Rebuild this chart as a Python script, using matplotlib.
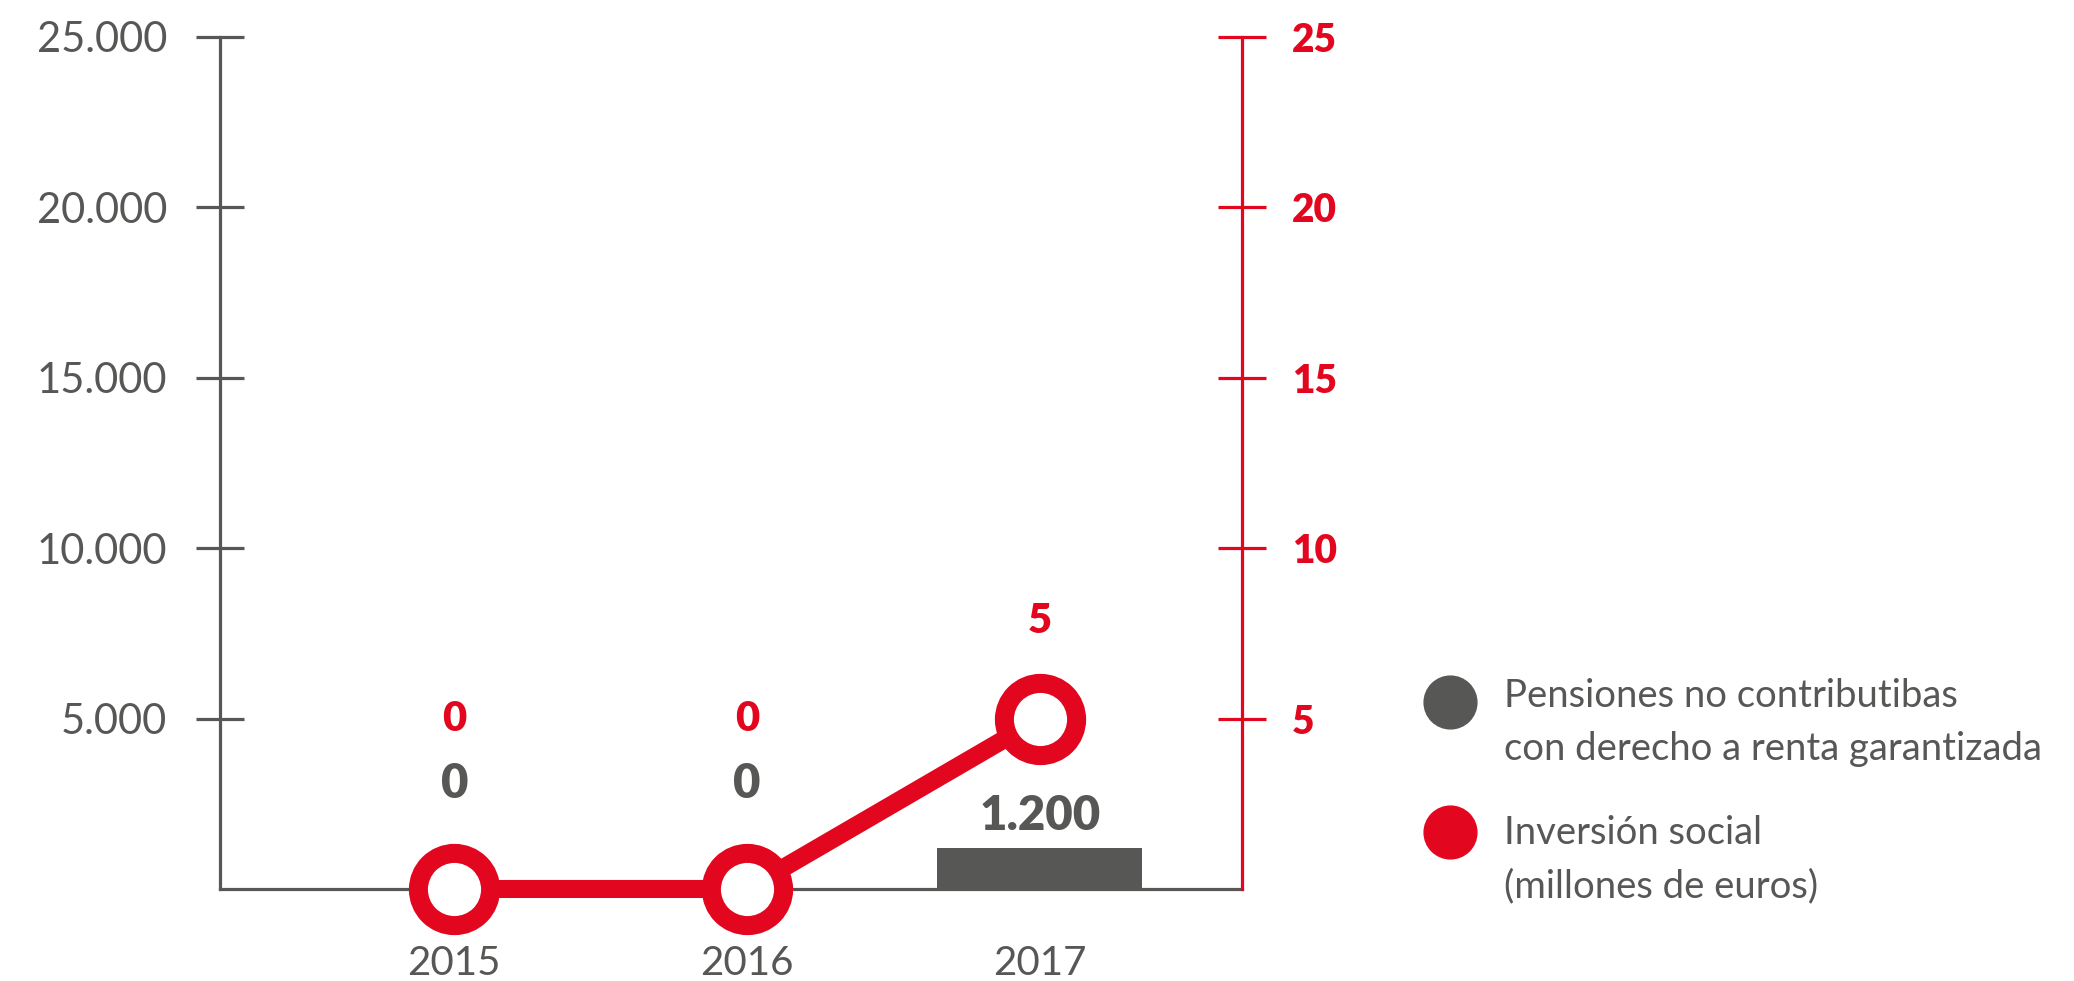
import matplotlib.pyplot as plt
from matplotlib.lines import Line2D
from matplotlib.ticker import FuncFormatter

# data
years = ["2015", "2016", "2017"]
pensiones = [0, 0, 1200]
inversion = [0, 0, 5]
left_ticks = [5000, 10000, 15000, 20000, 25000]
right_ticks = [5, 10, 15, 20, 25]

RED = "#e3061f"
GRAY = "#575756"
FONT = "Lato"


def dots(v, pos=None):
    return f"{int(v):,}".replace(",", ".")


fig = plt.figure(figsize=(20.74, 9.81), dpi=100)
ax = fig.add_axes([0.1061, 0.0938, 0.4927, 0.8685])
ax2 = ax.twinx()

x = range(len(years))

# bars on the left axis
ax.bar(x, pensiones, width=0.7, color=GRAY, zorder=2)
ax.set_ylim(0, 25000)
ax.set_xlim(-0.8, 2.69)
ax.set_yticks(left_ticks)
ax.yaxis.set_major_formatter(FuncFormatter(dots))
ax.set_xticks(list(x))
ax.set_xticklabels(years)

for s in ["top", "right"]:
    ax.spines[s].set_visible(False)
ax.spines["left"].set_color(GRAY)
ax.spines["left"].set_linewidth(2.3)
ax.spines["bottom"].set_color(GRAY)
ax.spines["bottom"].set_linewidth(2.3)
ax.tick_params(axis="y", direction="inout", length=34, width=2.3, color=GRAY,
               pad=21, labelsize=30, labelcolor=GRAY)
ax.tick_params(axis="x", length=0, pad=40, labelsize=29, labelcolor=GRAY)
for t in ax.get_yticklabels():
    t.set_fontfamily(FONT)
for t in ax.get_xticklabels():
    t.set_fontfamily(FONT)

# line on the right axis
ax2.plot(x, inversion, color=RED, lw=13, marker="o", ms=52, mew=13.7,
         mfc="white", mec=RED, clip_on=False, zorder=3)
ax2.set_ylim(0, 25)
ax2.set_yticks(right_ticks)
for s in ["top", "left", "bottom"]:
    ax2.spines[s].set_visible(False)
ax2.spines["right"].set_color(RED)
ax2.spines["right"].set_linewidth(2.3)
ax2.tick_params(axis="y", direction="inout", length=34, width=2.3, color=RED,
                pad=19, labelsize=28, labelcolor=RED)
for t in ax2.get_yticklabels():
    t.set_fontfamily(FONT)
    t.set_fontweight("heavy")

# value labels
gray_label_y = [3080, 3080, 2140]
red_label_y = [5, 5, 7.85]
for i in x:
    ax.text(i, gray_label_y[i], dots(pensiones[i]), ha="center", va="center",
            fontsize=34, fontweight="heavy", color=GRAY, family=FONT)
    ax2.text(i, red_label_y[i], dots(inversion[i]), ha="center", va="center",
             fontsize=30, fontweight="heavy", color=RED, family=FONT)

# legend drawn by hand
legend_items = [("Pensiones no contributibas\ncon derecho a renta garantizada", GRAY, 0.284, 0.025),
                ("Inversión social\n(millones de euros)", RED, 0.152, 0.017)]
for label, col, yy, off in legend_items:
    fig.add_artist(Line2D([0.699], [yy], transform=fig.transFigure, marker="o",
                          ms=38, color=col, lw=0))
    fig.text(0.725, yy + off, label, ha="left", va="top", fontsize=27.5,
             color=GRAY, family=FONT, linespacing=1.6)

fig.savefig("out.png", dpi=100)
